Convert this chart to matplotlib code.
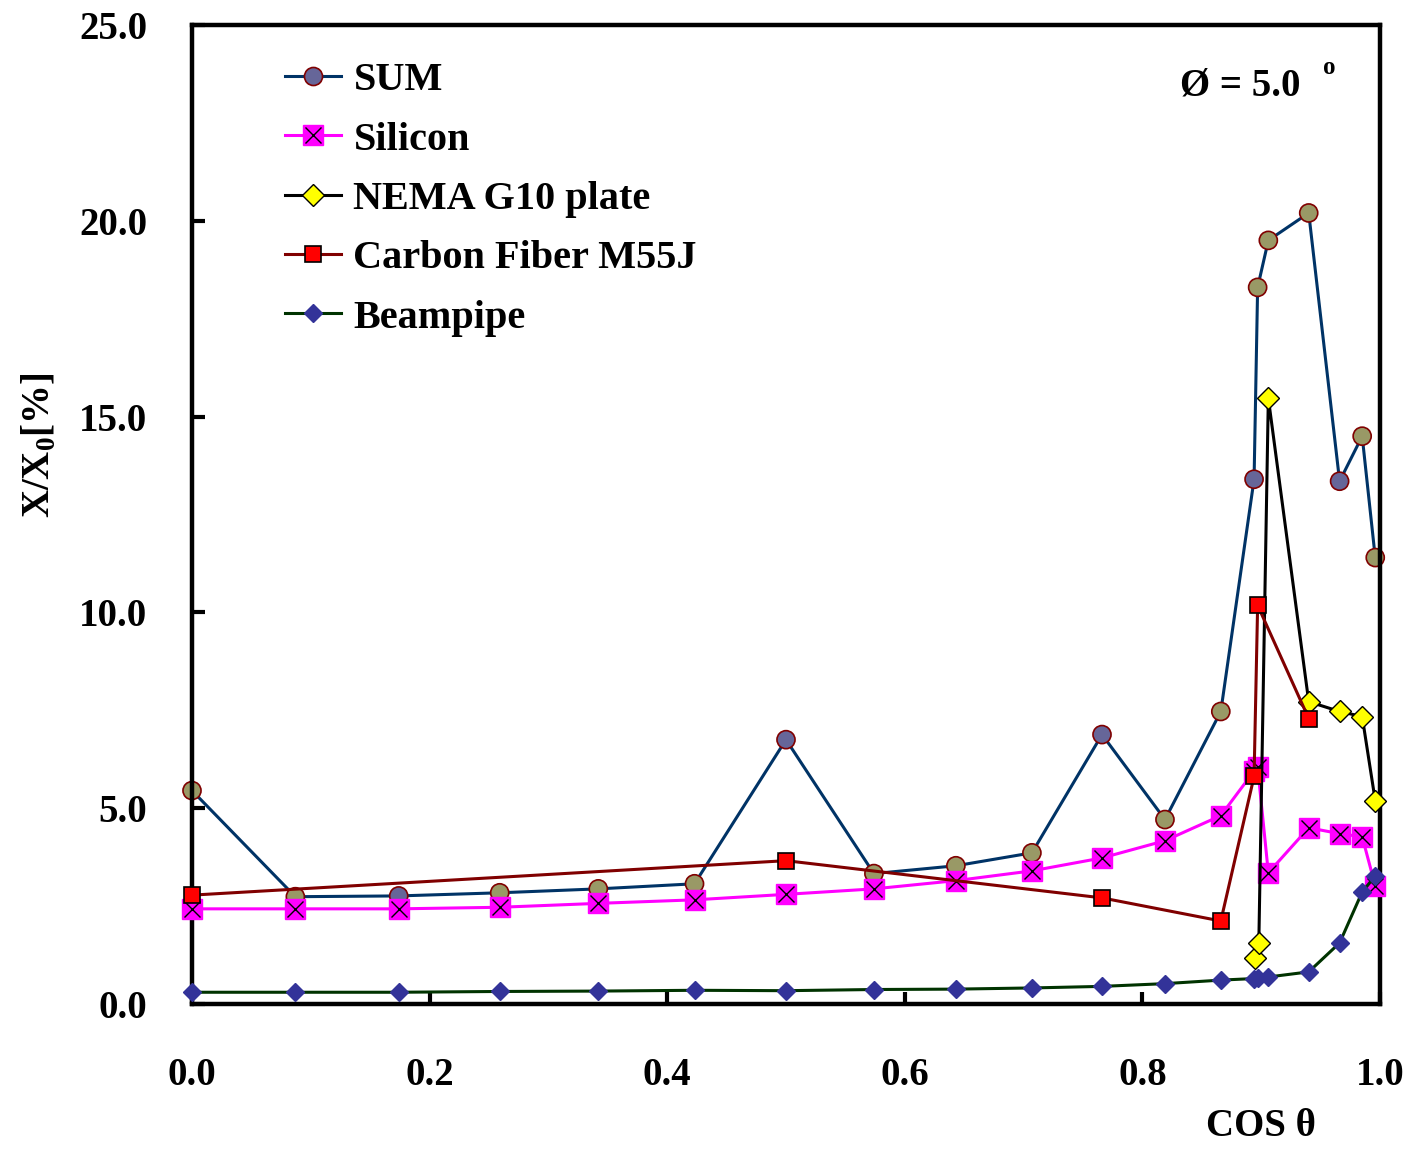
import matplotlib
matplotlib.use("Agg")
import matplotlib.pyplot as plt
from matplotlib.lines import Line2D
from matplotlib.legend_handler import HandlerTuple
from matplotlib.ticker import FormatStrFormatter, MultipleLocator

plt.rcParams["font.family"] = ["Liberation Serif", "DejaVu Serif"]
plt.rcParams["font.weight"] = "bold"
plt.rcParams["mathtext.fontset"] = "custom"
plt.rcParams["mathtext.rm"] = "Liberation Serif:bold"
plt.rcParams["mathtext.bf"] = "Liberation Serif:bold"

# cos(theta) sample positions
cos_theta = [0.0, 0.087, 0.174, 0.259, 0.342, 0.423, 0.5, 0.574, 0.643, 0.707,
             0.766, 0.819, 0.866, 0.894, 0.897, 0.906, 0.940, 0.966, 0.985, 0.996]

sum_x0 = [5.45, 2.74, 2.76, 2.84, 2.94, 3.07, 6.75, 3.33, 3.53, 3.86,
          6.88, 4.71, 7.47, 13.4, 18.3, 19.5, 20.2, 13.35, 14.5, 11.4]
# points drawn with the slate face in the original; the rest are khaki
sum_slate = [False, False, True, False, False, False, True, False, False, False,
             True, False, False, True, False, False, False, True, False, False]

silicon = [2.43, 2.43, 2.43, 2.47, 2.57, 2.66, 2.80, 2.94, 3.15, 3.40,
           3.73, 4.17, 4.81, 5.95, 6.05, 3.35, 4.50, 4.35, 4.27, 3.02]

beampipe = [0.30, 0.30, 0.30, 0.32, 0.33, 0.35, 0.34, 0.37, 0.38, 0.41,
            0.45, 0.52, 0.61, 0.65, 0.66, 0.69, 0.82, 1.56, 2.86, 3.27]

nema_x = [0.895, 0.898, 0.906, 0.940, 0.966, 0.985, 0.996]
nema = [1.18, 1.56, 15.47, 7.72, 7.47, 7.34, 5.19]

carbon_x = [0.0, 0.5, 0.766, 0.866, 0.894, 0.897, 0.940]
carbon = [2.78, 3.66, 2.71, 2.12, 5.81, 10.18, 7.29]

SUM_LINE = "#003366"
SUM_EDGE = "#800000"
SLATE = "#666699"
KHAKI = "#999966"

fig = plt.figure(figsize=(14.06, 11.49), dpi=100)
ax = fig.add_axes([192 / 1406, 1 - 1004 / 1149, 1188 / 1406, 979 / 1149])

lw = 2.2
ax.plot(cos_theta, sum_x0, color=SUM_LINE, lw=lw, zorder=2, clip_on=False)
ax.scatter(cos_theta, sum_x0, s=13 ** 2, marker="o",
           c=[SLATE if s else KHAKI for s in sum_slate],
           edgecolors=SUM_EDGE, linewidths=1.2, zorder=2.1, clip_on=False)

ax.plot(cos_theta, silicon, color="#FF00FF", lw=lw, marker="s", ms=15,
        mfc="#FF00FF", mec="#FF00FF", zorder=3, clip_on=False)
ax.plot(cos_theta, silicon, ls="none", marker="x", ms=11, mew=1.0,
        color="black", zorder=3.1, clip_on=False)

ax.plot(nema_x, nema, color="black", lw=lw, marker="D", ms=11,
        mfc="#FFFF00", mec="black", mew=1.0, zorder=4, clip_on=False)

ax.plot(carbon_x, carbon, color="#800000", lw=lw, marker="s", ms=11,
        mfc="#FF0000", mec="black", mew=1.2, zorder=5, clip_on=False)

ax.plot(cos_theta, beampipe, color="#003300", lw=lw, marker="D", ms=9.5,
        mfc="#333399", mec="#333399", zorder=6, clip_on=False)

ax.set_xlim(0, 1.0)
ax.set_ylim(0, 25.0)
ax.xaxis.set_major_locator(MultipleLocator(0.2))
ax.yaxis.set_major_locator(MultipleLocator(5))
ax.xaxis.set_major_formatter(FormatStrFormatter("%.1f"))
ax.yaxis.set_major_formatter(FormatStrFormatter("%.1f"))
ax.tick_params(direction="in", length=9, width=3, labelsize=28, pad=32,
               top=False, right=False)
ax.tick_params(axis="x", pad=38)
for spine in ax.spines.values():
    spine.set_linewidth(3.2)

fig.text(40 / 1406, 1 - 445 / 1149, r"X/X$_{0}$[%]", rotation=90,
         ha="center", va="center", fontsize=28)
fig.text(1261 / 1406, 1 - 1127 / 1149, "COS θ", ha="center", va="center",
         fontsize=28)
fig.text(1180 / 1406, 1 - 86 / 1149, "Ø = 5.0", ha="left", va="center",
         fontsize=28)
fig.text(1323 / 1406, 1 - 68 / 1149, "o", ha="left", va="center", fontsize=18)

handles = [
    Line2D([], [], color=SUM_LINE, lw=lw, marker="o", ms=13, mfc=SLATE,
           mec=SUM_EDGE, mew=1.2),
    (Line2D([], [], color="#FF00FF", lw=lw, marker="s", ms=15, mfc="#FF00FF",
            mec="#FF00FF"),
     Line2D([], [], ls="none", marker="x", ms=11, mew=1.0, color="black")),
    Line2D([], [], color="black", lw=lw, marker="D", ms=11, mfc="#FFFF00",
           mec="black", mew=1.0),
    Line2D([], [], color="#800000", lw=lw, marker="s", ms=11, mfc="#FF0000",
           mec="black", mew=1.2),
    Line2D([], [], color="#003300", lw=lw, marker="D", ms=9.5, mfc="#333399",
           mec="#333399"),
]
labels = ["SUM", "Silicon", "NEMA G10 plate", "Carbon Fiber M55J", "Beampipe"]
ax.legend(handles, labels, handler_map={tuple: HandlerTuple(ndivide=1)},
          loc="upper left", bbox_to_anchor=(285 / 1406, 1 - 62 / 1149),
          bbox_transform=fig.transFigure, frameon=False, fontsize=29,
          handlelength=1.4, handletextpad=0.3, labelspacing=0.55,
          borderpad=0, borderaxespad=0)

fig.savefig("out.png", dpi=100)
